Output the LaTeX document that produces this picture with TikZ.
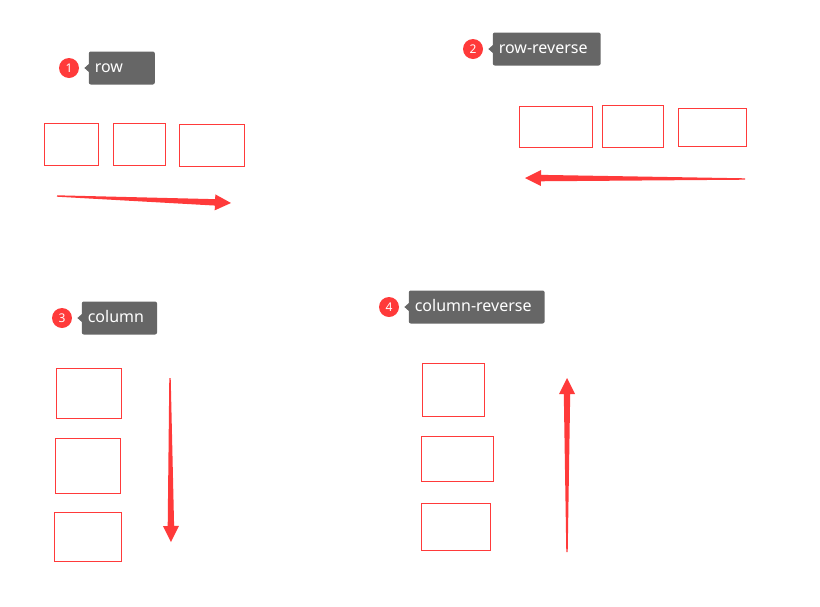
\documentclass[tikz,border=0pt]{standalone}
\usepackage{fontspec}
\setmainfont{Noto Sans}
\usetikzlibrary{calc,positioning}
\definecolor{flexred}{HTML}{FF3A3A}
\definecolor{taggray}{HTML}{666666}

% tapered arrow: tail, tip
\newcommand{\flowarrow}[2]{%
  \coordinate (hb) at ($(#2)!8pt!(#1)$);
  \fill[flexred] ($(#1)!0.35pt!90:(#2)$) -- ($(hb)!1.6pt!90:(#2)$)
     -- ($(hb)!4pt!90:(#2)$) -- (#2) -- ($(hb)!4pt!-90:(#2)$)
     -- ($(hb)!1.6pt!-90:(#2)$) -- ($(#1)!0.35pt!-90:(#2)$) -- cycle;}

\begin{document}
\begin{tikzpicture}[x=0.5pt,y=-0.5pt,
    badge/.style={circle,fill=flexred,text=white,inner sep=0pt,
      minimum size=10pt,font=\fontsize{6}{7}\selectfont},
    tag/.style={fill=taggray,text=white,rounded corners=1pt,
      inner xsep=3pt,minimum height=16.5pt,text height=6pt,text depth=1.8pt,
      font=\fontsize{8}{9}\selectfont,right=4.5pt of #1,
      execute at end node={\hspace{3.5pt}}},
    cell/.style={draw=flexred,line width=0.5pt}
  ]
  \useasboundingbox (0,0) rectangle (820,606);

  % 1 row
  \node[badge] (b1) at (69,68) {1};
  \node[tag=b1,text width=27pt,align=left] (t1) {row};
  \draw[cell] (44,123) rectangle (98,165);
  \draw[cell] (113,123) rectangle (165,165);
  \draw[cell] (179,124) rectangle (244,166);
  \coordinate (a1s) at (57,196);
  \coordinate (a1e) at (231,203);
  \flowarrow{a1s}{a1e}

  % 2 row-reverse
  \node[badge] (b2) at (473,49) {2};
  \node[tag=b2] (t2) {row-reverse};
  \draw[cell] (519,106) rectangle (592,147);
  \draw[cell] (602,105) rectangle (663,147);
  \draw[cell] (678,108) rectangle (746,146);
  \coordinate (a2s) at (745,179);
  \coordinate (a2e) at (525,178);
  \flowarrow{a2s}{a2e}

  % 3 column
  \node[badge] (b3) at (62,318) {3};
  \node[tag=b3] (t3) {column};
  \draw[cell] (56,368) rectangle (121,418);
  \draw[cell] (55,438) rectangle (120,493);
  \draw[cell] (54,512) rectangle (121,561);
  \coordinate (a3s) at (170,378);
  \coordinate (a3e) at (171,542);
  \flowarrow{a3s}{a3e}

  % 4 column-reverse
  \node[badge] (b4) at (389,307) {4};
  \node[tag=b4] (t4) {column-reverse};
  \draw[cell] (422,363) rectangle (484,416);
  \draw[cell] (421,436) rectangle (493,481);
  \draw[cell] (421,503) rectangle (490,550);
  \coordinate (a4s) at (567,552);
  \coordinate (a4e) at (567,378);
  \flowarrow{a4s}{a4e}

  % pointers of the tags
  \foreach \t in {t1,t2,t3,t4}
    \fill[taggray] ($(\t.west)+(0.5,-4)$) -- ++(-4.5,4) -- ++(4.5,4) -- cycle;
\end{tikzpicture}
\end{document}
